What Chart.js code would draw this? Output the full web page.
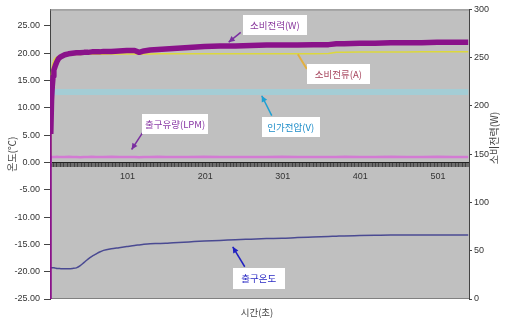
<!DOCTYPE html>
<html>
<head>
<meta charset="utf-8">
<script src="https://cdn.jsdelivr.net/npm/chart.js@4"></script>
<style>
  html, body { margin: 0; padding: 0; background: #ffffff; }
  #wrap { width: 507px; height: 320px; }
</style>
</head>
<body>
<div id="wrap"><canvas id="c" width="507" height="320"></canvas></div>
<script>
// Elapsed time (s) of the sampled readings
const times = [1,2,3,4,5,6,8,10,12,15,20,25,30,35,40,45,50,55,60,65,70,80,90,100,110,116,122,130,140,150,160,180,200,220,240,260,280,300,320,340,360,370,380,400,420,440,460,480,500,520,540];

// 소비전력 (W) - right axis
const powerW = [0,171,206,221,231,237,242,246,249,251,253,254,254.5,255,255,255.5,255.5,256,256,256,256.5,256.5,257,257.5,257.5,255.5,257,258,258.5,259,259.5,260.5,261.5,262,262,262.5,263,263,263,263.5,263.5,264.5,264.5,265,265,265.5,265.5,265.5,266,266,266];

// 소비전류 (A) - left axis
const currentA = [0,13.5,16.5,17.6,18.3,18.7,19.1,19.3,19.4,19.5,19.6,19.65,19.7,19.75,19.75,19.8,19.8,19.8,19.8,19.8,19.8,19.85,19.85,19.85,19.85,19.8,19.85,19.85,19.9,19.9,19.9,19.9,19.9,19.9,19.9,19.9,19.9,19.9,19.9,19.9,19.95,20.15,20.15,20.2,20.2,20.2,20.2,20.25,20.25,20.25,20.25];

// 인가전압 (V) - left axis
const voltageV = [0,12.7,12.9,12.9,12.9,12.9,12.9,12.9,12.9,12.9,12.9,12.9,12.9,12.9,12.9,12.9,12.9,12.9,12.9,12.9,12.9,12.9,12.9,12.9,12.9,12.9,12.9,12.9,12.9,12.9,12.9,12.9,12.9,12.9,12.9,12.9,12.9,12.9,12.9,12.9,12.9,12.9,12.9,12.9,12.9,12.9,12.9,12.9,12.9,12.9,12.9];

// 출구유량 (LPM) - left axis
const flowLPM = [0,0.9,1.0,1.0,1.0,1.0,1.0,1.05,1.0,1.0,1.0,1.05,1.0,1.0,0.95,1.0,1.0,1.05,1.0,1.0,1.0,1.05,1.0,1.0,1.0,0.95,1.0,1.0,1.05,1.0,1.0,1.0,1.05,1.0,1.0,1.0,1.0,1.05,1.0,1.0,1.0,1.0,1.05,1.0,1.0,1.05,1.0,1.0,1.05,1.0,1.0];

// 출구온도 (℃) - left axis
const outletTemp = [-19.3,-19.3,-19.3,-19.3,-19.3,-19.3,-19.35,-19.4,-19.4,-19.45,-19.45,-19.45,-19.4,-19.3,-18.9,-18.3,-17.7,-17.2,-16.8,-16.4,-16.1,-15.8,-15.6,-15.4,-15.2,-15.1,-15.0,-14.9,-14.85,-14.8,-14.7,-14.55,-14.4,-14.3,-14.15,-14.05,-13.95,-13.9,-13.75,-13.65,-13.55,-13.5,-13.45,-13.4,-13.35,-13.3,-13.3,-13.3,-13.3,-13.3,-13.3];

// Time-axis labels
const timeLabels = [101, 201, 301, 401, 501];

const pts = (vals) => times.map((t, i) => ({ x: t, y: vals[i] }));

const numFont = { family: "'Liberation Sans Narrow', 'Liberation Sans', Arial, sans-serif", size: 9 };
const krFont = "'Noto Sans CJK KR', 'Noto Sans', sans-serif";

// Callout boxes: position in data units (time, left-axis value)
const callouts = [
  { text: '소비전력(W)', color: '#8a3a9e', cx: 290.7, cy: 25.1, w: 64, h: 20, line: '#7a2fa0', from: [246.8, 23.8], to: [231.3, 22.0], head: true },
  { text: '소비전류(A)', color: '#a84860', cx: 372.6, cy: 16.2, w: 63, h: 20, line: '#e2b040', from: [332.0, 17.1], to: [320.4, 19.8], head: false },
  { text: '인가전압(V)', color: '#1c8cc8', cx: 311.3, cy: 6.55, w: 58, h: 20, line: '#1ea0d2', from: [286.8, 8.55], to: [273.9, 12.2], head: true },
  { text: '출구유량(LPM)', color: '#8a3aa6', cx: 162.3, cy: 7.1, w: 66, h: 20, line: '#7a2fa0', from: [120.4, 5.45], to: [106.2, 2.36], head: true },
  { text: '출구온도', color: '#2a2ac4', cx: 270.0, cy: -21.2, w: 52, h: 21, line: '#2020c0', from: [252.0, -19.1], to: [236.5, -15.45], head: true }
];

// First segment (start-up jump) is drawn thin, the rest as a wide band
const startThin = (wide) => ({ borderWidth: ctx => ctx.p0DataIndex === 0 ? 2 : wide });

const decor = {
  id: 'decor',
  beforeDraw(chart) {
    const { ctx, chartArea: a } = chart;
    ctx.save();
    ctx.fillStyle = '#c0c0c0';
    ctx.fillRect(a.left, a.top, a.right - a.left, a.bottom - a.top);
    ctx.restore();
  },
  beforeDatasetsDraw(chart) {
    const { ctx, chartArea: a } = chart;
    ctx.save();
    ctx.strokeStyle = '#808080';
    ctx.lineWidth = 1;
    ctx.beginPath();
    ctx.moveTo(a.left, a.top + 0.5);
    ctx.lineTo(a.right, a.top + 0.5);
    ctx.moveTo(a.left, a.bottom - 0.5);
    ctx.lineTo(a.right, a.bottom - 0.5);
    ctx.stroke();
    ctx.restore();
  },
  afterDatasetsDraw(chart) {
    const { ctx, scales } = chart;
    ctx.save();
    const px = (t) => scales.x.getPixelForValue(t);
    const py = (v) => scales.y.getPixelForValue(v);
    callouts.forEach(c => {
      const x0 = px(c.from[0]), y0 = py(c.from[1]);
      const x1 = px(c.to[0]), y1 = py(c.to[1]);
      ctx.strokeStyle = c.line;
      ctx.fillStyle = c.line;
      ctx.lineWidth = c.head ? 1.5 : 2;
      ctx.beginPath();
      ctx.moveTo(x0, y0);
      ctx.lineTo(x1, y1);
      ctx.stroke();
      if (c.head) {
        const ang = Math.atan2(y1 - y0, x1 - x0);
        const L = 6, W = 3;
        ctx.beginPath();
        ctx.moveTo(x1, y1);
        ctx.lineTo(x1 - L * Math.cos(ang) + W * Math.sin(ang), y1 - L * Math.sin(ang) - W * Math.cos(ang));
        ctx.lineTo(x1 - L * Math.cos(ang) - W * Math.sin(ang), y1 - L * Math.sin(ang) + W * Math.cos(ang));
        ctx.closePath();
        ctx.fill();
      }
      const bx = px(c.cx), by = py(c.cy);
      ctx.fillStyle = '#ffffff';
      ctx.fillRect(Math.round(bx - c.w / 2), Math.round(by - c.h / 2), c.w, c.h);
      ctx.fillStyle = c.color;
      ctx.font = '9.5px ' + krFont;
      ctx.textAlign = 'center';
      ctx.textBaseline = 'middle';
      ctx.fillText(c.text, bx, by + 0.5);
    });
    ctx.restore();
  },
  afterDraw(chart) {
    const { ctx } = chart;
    ctx.save();
    ctx.fillStyle = '#444444';
    ctx.font = '10px ' + krFont;
    ctx.textAlign = 'center';
    ctx.textBaseline = 'middle';
    // right-axis title, read bottom to top
    ctx.translate(494, 138);
    ctx.rotate(-Math.PI / 2);
    ctx.fillText('소비전력(W)', 0, 0);
    ctx.restore();

    ctx.save();
    ctx.fillStyle = '#444444';
    ctx.font = '9.5px ' + krFont;
    ctx.textAlign = 'center';
    ctx.textBaseline = 'middle';
    ctx.fillText('시간(초)', 257, 312);
    ctx.restore();
  }
};

new Chart(document.getElementById('c'), {
  type: 'line',
  data: {
    datasets: [
      { label: '소비전력(W)', data: pts(powerW), yAxisID: 'y1', borderColor: '#8a128a', borderWidth: 5.5, segment: startThin(5.5) },
      { label: '출구온도', data: pts(outletTemp), yAxisID: 'y', borderColor: '#4a4a92', borderWidth: 1.5, cubicInterpolationMode: 'monotone' },
      { label: '출구유량(LPM)', data: pts(flowLPM), yAxisID: 'y', borderColor: '#d37bd3', borderWidth: 2.5 },
      { label: '소비전류(A)', data: pts(currentA), yAxisID: 'y', borderColor: '#dcd83c', borderWidth: 1.5 },
      { label: '인가전압(V)', data: pts(voltageV), yAxisID: 'y', borderColor: '#a4cdd5', borderWidth: 6, segment: startThin(6) }
    ]
  },
  options: {
    responsive: false,
    animation: false,
    events: [],
    elements: { point: { radius: 0 }, line: { tension: 0, borderJoinStyle: 'round' } },
    layout: { padding: { top: 7, bottom: 21, left: 0, right: 0 } },
    plugins: { legend: { display: false }, tooltip: { enabled: false } },
    scales: {
      x: {
        type: 'linear',
        axis: 'x',
        position: { y: 0 },
        min: 1,
        max: 541,
        afterFit: (s) => { s.height = 0; },
        grid: { drawOnChartArea: false, drawTicks: true, tickLength: 4, color: 'rgba(20,20,20,0.8)', tickWidth: 0.6 },
        border: { display: true, color: '#222222', width: 1 },
        ticks: {
          stepSize: 1,
          autoSkip: false,
          maxRotation: 0,
          padding: 5,
          color: '#333333',
          font: numFont,
          callback: (v) => timeLabels.includes(v) ? String(v) : ''
        }
      },
      y: {
        type: 'linear',
        position: 'left',
        min: -25,
        max: 28,
        afterFit: (s) => { s.width = 50; },
        afterBuildTicks: (s) => { s.ticks = s.ticks.filter(t => t.value % 5 === 0); },
        grid: { drawOnChartArea: false, tickLength: 6, color: '#444444' },
        border: { display: true, color: '#444444' },
        ticks: { stepSize: 5, padding: 4, color: '#333333', font: numFont, callback: (v) => Number(v).toFixed(2) },
        title: { display: true, text: '온도(℃)', color: '#444444', font: { family: krFont, size: 10 }, padding: { top: 6, bottom: 0 } }
      },
      y1: {
        type: 'linear',
        position: 'right',
        min: 0,
        max: 300,
        afterFit: (s) => { s.width = 38; },
        grid: { drawOnChartArea: false, tickLength: 3, color: '#444444' },
        border: { display: true, color: '#444444' },
        ticks: { stepSize: 50, padding: 2, color: '#333333', font: { family: numFont.family, size: 9 } }
      }
    }
  },
  plugins: [decor]
});
</script>
</body>
</html>
